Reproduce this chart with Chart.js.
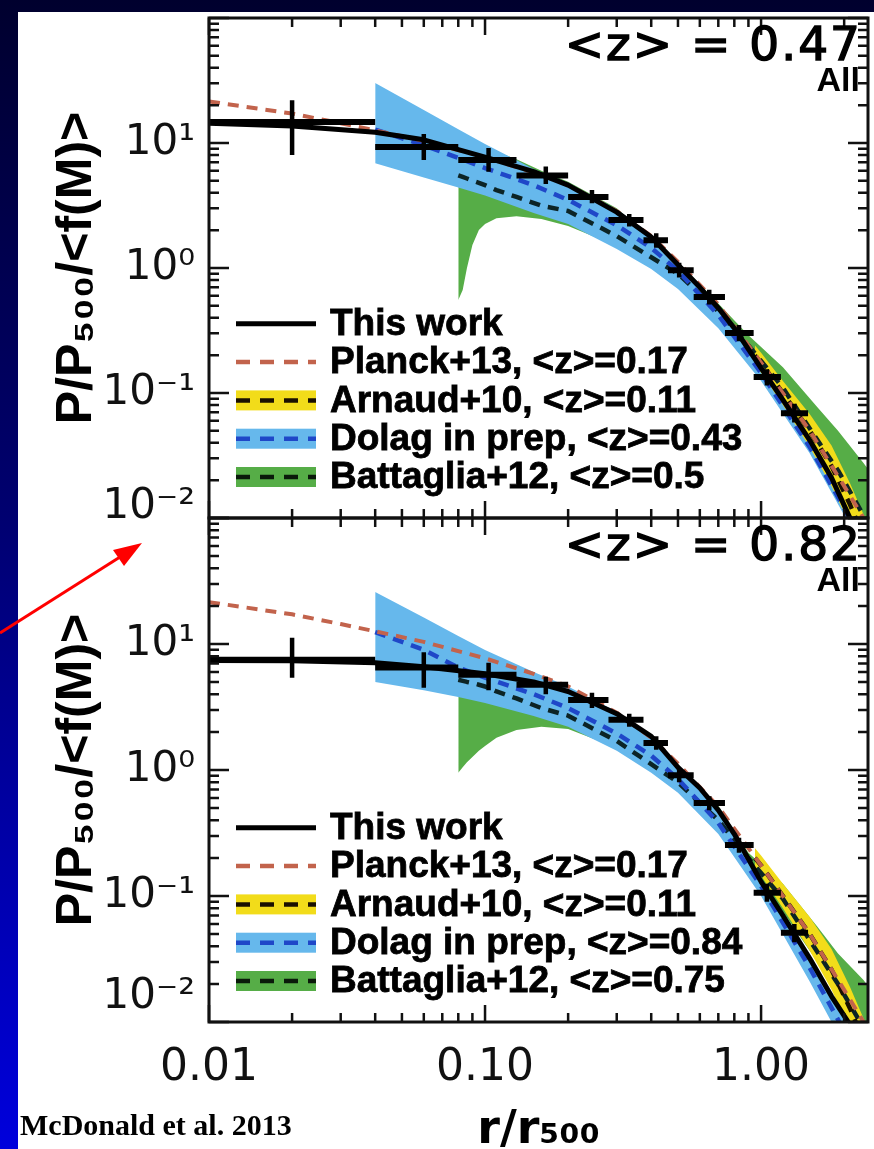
<!DOCTYPE html>
<html>
<head>
<meta charset="utf-8">
<script src="https://cdn.jsdelivr.net/npm/chart.js@4.4.1/dist/chart.umd.min.js"></script>
<style>
  html, body { margin:0; padding:0; }
  body { width:874px; height:1149px; overflow:hidden; position:relative;
         background: linear-gradient(to bottom, #00002e 0%, #000070 45%, #0000dc 100%); }
  #paper { position:absolute; left:18px; top:12px; width:856px; height:1137px; background:#fff; }
  canvas { position:absolute; left:0; top:0; }
  #credit { position:absolute; left:20px; top:1108px; font: bold 30px 'Liberation Serif', serif; color:#000; white-space:nowrap; }
  #arrow { position:absolute; left:0; top:0; pointer-events:none; }
</style>
</head>
<body>
<div id="paper"></div>
<canvas id="topPanel" width="874" height="1149"></canvas>
<canvas id="botPanel" width="874" height="1149"></canvas>
<div id="credit">McDonald et al. 2013</div>
<svg id="arrow" width="874" height="1149">
  <line x1="0" y1="633" x2="120" y2="557" stroke="#ff0000" stroke-width="3"/>
  <polygon points="142,543 113,550 124,566" fill="#ff0000"/>
</svg>
<script>
// ---------------- data ----------------
const xTickValues = [0.01, 0.1, 1];
const xTickLabels = ['0.01', '0.10', '1.00'];
const yTickValues = [0.01, 0.1, 1, 10, 100];
const yTickLabels = ['10⁻²', '10⁻¹', '10⁰', '10¹', ''];

const panelTitles = ['<z> = 0.47', '<z> = 0.82'];
const panelSubtitle = 'All';
const legendTop = ['This work', 'Planck+13, <z>=0.17', 'Arnaud+10, <z>=0.11', 'Dolag in prep, <z>=0.43', 'Battaglia+12, <z>=0.5'];
const legendBot = ['This work', 'Planck+13, <z>=0.17', 'Arnaud+10, <z>=0.11', 'Dolag in prep, <z>=0.84', 'Battaglia+12, <z>=0.75'];

// "This work" binned profile (bin edges, centres, values, errors)
const binLo = [0.01, 0.04, 0.08, 0.13, 0.20, 0.28, 0.375, 0.46, 0.57, 0.74, 0.94, 1.18];
const binHi = [0.04, 0.08, 0.13, 0.20, 0.28, 0.375, 0.46, 0.57, 0.74, 0.94, 1.18, 1.48];
const binX  = [0.020, 0.060, 0.103, 0.166, 0.244, 0.333, 0.417, 0.505, 0.649, 0.832, 1.05, 1.32];
const binYTop  = [14.7, 9.3, 7.3, 5.5, 3.7, 2.42, 1.67, 0.96, 0.586, 0.302, 0.134, 0.069];
const errLoTop = [8.0, 7.3, 5.9, 4.7, 3.3, 2.15, 1.45, 0.84, 0.51, 0.26, 0.115, 0.058];
const errHiTop = [22.0, 11.8, 9.1, 6.5, 4.2, 2.7, 1.9, 1.1, 0.67, 0.35, 0.155, 0.082];
const binYBot  = [7.5, 6.5, 5.7, 4.75, 3.6, 2.5, 1.64, 0.91, 0.547, 0.254, 0.106, 0.051];
const errLoBot = [5.4, 4.5, 4.3, 4.0, 3.1, 2.2, 1.45, 0.80, 0.48, 0.22, 0.09, 0.043];
const errHiBot = [11.2, 8.6, 7.1, 5.5, 4.1, 2.8, 1.85, 1.03, 0.62, 0.29, 0.125, 0.06];

// "This work" smooth model
const modelR   = [0.01, 0.02, 0.04, 0.06, 0.1, 0.15, 0.2, 0.3, 0.4, 0.5, 0.6, 0.7, 0.8, 1.0, 1.2, 1.5, 1.8, 2.1, 2.5];
const modelTop = [14.4, 13.7, 12.2, 10.6, 7.7, 5.9, 4.6, 2.8, 1.77, 1.06, 0.70, 0.48, 0.33, 0.158, 0.088, 0.042, 0.021, 0.010, 0.0046];
const modelBot = [7.4, 7.35, 7.1, 6.6, 5.8, 5.0, 4.2, 2.8, 1.85, 1.05, 0.72, 0.48, 0.31, 0.13, 0.07, 0.032, 0.016, 0.0095, 0.0052];

// Planck+13
const planckR = [0.01, 0.02, 0.03, 0.04, 0.06, 0.1, 0.15, 0.2, 0.3, 0.4, 0.5, 0.7, 1.0, 1.5, 2.0, 2.5];
const planckY = [21.5, 17.2, 14.4, 12.6, 10.4, 7.7, 5.8, 4.6, 2.85, 1.8, 1.12, 0.51, 0.175, 0.05, 0.018, 0.008];

// Arnaud+10 (mean and scatter)
const arnR  = [0.95, 1.0, 1.2, 1.5, 1.8, 2.1, 2.5];
const arnY  = [0.20, 0.175, 0.10, 0.05, 0.026, 0.0128, 0.0052];
const arnLo = [0.16, 0.145, 0.08, 0.037, 0.018, 0.0088, 0.0035];
const arnHi = [0.24, 0.21, 0.125, 0.068, 0.038, 0.019, 0.0078];

// Dolag in prep (band and mean)
const dolR       = [0.04, 0.06, 0.08, 0.1, 0.15, 0.2, 0.3, 0.4, 0.5, 0.7, 1.0, 1.5, 2.0, 2.5];
const dolHiTop   = [30.2, 18.4, 12.9, 9.8, 6.2, 4.8, 2.95, 1.85, 1.1, 0.5, 0.165, 0.044, 0.015, 0.0055];
const dolLoTop   = [6.9, 5.3, 4.4, 3.8, 2.75, 2.25, 1.42, 0.98, 0.68, 0.33, 0.125, 0.033, 0.0105, 0.0035];
const dolMeanTop = [12.8, 9.6, 7.6, 6.3, 4.6, 3.5, 2.2, 1.45, 0.95, 0.42, 0.145, 0.037, 0.012, 0.0045];
const dolHiBot   = [25.9, 16.2, 11.6, 8.96, 6.0, 4.6, 2.9, 1.85, 1.1, 0.48, 0.14, 0.034, 0.011, 0.004];
const dolLoBot   = [5.0, 4.3, 3.8, 3.4, 2.68, 2.2, 1.42, 0.95, 0.66, 0.31, 0.10, 0.021, 0.0065, 0.0025];
const dolMeanBot = [12.4, 9.0, 6.5, 5.4, 4.0, 3.1, 1.95, 1.3, 0.85, 0.38, 0.12, 0.027, 0.0085, 0.003];

// Battaglia+12 (band and mean)
const batR       = [0.08, 0.083, 0.086, 0.09, 0.095, 0.1, 0.11, 0.13, 0.16, 0.2, 0.3, 0.5, 0.7, 0.9, 1.2, 1.6, 1.9, 2.35, 2.5];
const batHiTop   = [9.6, 9.5, 9.4, 9.3, 9.1, 8.9, 8.5, 7.4, 6.0, 4.9, 3.0, 1.12, 0.52, 0.29, 0.161, 0.077, 0.05, 0.0275, 0.023];
const batLoTop   = [0.555, 0.667, 1.0, 1.53, 2.01, 2.25, 2.5, 2.6, 2.47, 2.17, 1.5, 0.75, 0.36, 0.2, 0.09, 0.038, 0.02, 0.009, 0.007];
const batMeanTop = [5.5, 5.35, 5.2, 5.0, 4.8, 4.6, 4.2, 3.7, 3.15, 2.86, 1.8, 0.9, 0.45, 0.24, 0.11, 0.042, 0.024, 0.0105, 0.0085];
const batHiBot   = [5.6, 5.6, 5.6, 5.5, 5.4, 5.3, 5.1, 4.7, 4.2, 3.9, 2.7, 1.1, 0.52, 0.22, 0.125, 0.057, 0.035, 0.0215, 0.018];
const batLoBot   = [0.95, 1.05, 1.15, 1.27, 1.42, 1.55, 1.8, 2.08, 2.2, 2.12, 1.5, 0.7, 0.33, 0.17, 0.075, 0.03, 0.016, 0.0075, 0.006];
const batMeanBot = [5.2, 5.1, 5.0, 4.9, 4.75, 4.6, 4.2, 3.7, 3.1, 2.7, 1.7, 0.8, 0.4, 0.2, 0.095, 0.036, 0.02, 0.009, 0.0072];

// ---------------- styling ----------------
const SANS = "'Liberation Sans', 'DejaVu Sans', Arial, sans-serif";
const WIDE = "'DejaVu Sans', 'Liberation Sans', Arial, sans-serif";
const GREEN = '#56ad47', BLUE = '#66b8ec', YELLOW = '#f2dc1a';
const C_PLANCK = '#c2634c', C_DOLAG = '#1f47c8', C_BAT = '#0c2426', C_ARN = '#1a1000';
const DASH = [11, 8];

function xy(xs, ys) { return xs.map((x, i) => ({ x: x, y: ys[i] })); }
function hbars(lo, hi, y) {
  const o = [];
  for (let i = 0; i < y.length; i++) o.push({ x: lo[i], y: y[i] }, { x: hi[i], y: y[i] }, { x: hi[i], y: null });
  return o;
}
function vbars(x, lo, hi) {
  const o = [];
  for (let i = 0; i < x.length; i++) o.push({ x: x[i], y: lo[i] }, { x: x[i], y: hi[i] }, { x: x[i], y: null });
  return o;
}

function makeDatasets(p) {
  const base = { pointRadius: 0, pointHoverRadius: 0, tension: 0, fill: false, spanGaps: false,
                 borderCapStyle: 'butt', borderJoinStyle: 'round' };
  const none = 'rgba(0,0,0,0)';
  return [
    { ...base, label: 'bat-lo', data: xy(batR, p.batLo), borderWidth: 0, borderColor: none, backgroundColor: none, order: 20 },
    { ...base, label: 'Battaglia band', data: xy(batR, p.batHi), borderWidth: 0, borderColor: none, backgroundColor: GREEN, fill: '-1', order: 12 },
    { ...base, label: 'dol-lo', data: xy(dolR, p.dolLo), borderWidth: 0, borderColor: none, backgroundColor: none, order: 21 },
    { ...base, label: 'Dolag band', data: xy(dolR, p.dolHi), borderWidth: 0, borderColor: none, backgroundColor: BLUE, fill: '-1', order: 11 },
    { ...base, label: 'arn-lo', data: xy(arnR, arnLo), borderWidth: 0, borderColor: none, backgroundColor: none, order: 22 },
    { ...base, label: 'Arnaud band', data: xy(arnR, arnHi), borderWidth: 0, borderColor: none, backgroundColor: YELLOW, fill: '-1', order: 10 },
    { ...base, label: 'Battaglia+12', data: xy(batR, p.batMean), borderColor: C_BAT, backgroundColor: none, borderWidth: 4.5, borderDash: DASH, order: 6 },
    { ...base, label: 'Dolag in prep', data: xy(dolR, p.dolMean), borderColor: C_DOLAG, backgroundColor: none, borderWidth: 4.5, borderDash: DASH, order: 5 },
    { ...base, label: 'Arnaud+10', data: xy(arnR, arnY), borderColor: C_ARN, backgroundColor: none, borderWidth: 4.5, borderDash: DASH, order: 4 },
    { ...base, label: 'Planck+13', data: xy(planckR, planckY), borderColor: C_PLANCK, backgroundColor: none, borderWidth: 4, borderDash: DASH, order: 3 },
    { ...base, label: 'This work', data: xy(modelR, p.model), borderColor: '#000', backgroundColor: none, borderWidth: 5, order: 2 },
    { ...base, label: 'bins', data: hbars(binLo, binHi, p.binY), borderColor: '#000', backgroundColor: none, borderWidth: 6, order: 1 },
    { ...base, label: 'errors', data: vbars(binX, p.errLo, p.errHi), borderColor: '#000', backgroundColor: none, borderWidth: 4.5, order: 0 }
  ];
}

// frame, inward ticks, legend and panel labels
const panelDecor = {
  id: 'panelDecor',
  afterDatasetsDraw(chart, args, o) {
    const { ctx, chartArea: a } = chart;
    const xs = chart.scales.x, ys = chart.scales.y;
    ctx.save();
    ctx.strokeStyle = '#111';
    ctx.lineWidth = 2.5;
    ctx.beginPath();
    for (const d of [0.01, 0.1, 1]) {
      for (let m = 1; m <= 9; m++) {
        const v = m * d;
        if (v > xs.max * 1.0001) continue;
        const px = xs.getPixelForValue(v);
        const L = m === 1 ? 17 : 9;
        ctx.moveTo(px, a.bottom); ctx.lineTo(px, a.bottom - L);
        ctx.moveTo(px, a.top); ctx.lineTo(px, a.top + L);
      }
    }
    for (const d of [0.01, 0.1, 1, 10, 100]) {
      for (let m = 1; m <= 9; m++) {
        const v = m * d;
        if (v > ys.max * 1.0001) continue;
        const py = ys.getPixelForValue(v);
        const L = m === 1 ? 20 : 10;
        ctx.moveTo(a.left, py); ctx.lineTo(a.left + L, py);
        ctx.moveTo(a.right, py); ctx.lineTo(a.right - L, py);
      }
    }
    ctx.stroke();
    ctx.lineWidth = 3;
    ctx.strokeRect(a.left, a.top, a.right - a.left, a.bottom - a.top);

    // panel label
    ctx.fillStyle = '#000';
    ctx.strokeStyle = '#000';
    ctx.textAlign = 'right';
    ctx.textBaseline = 'alphabetic';
    ctx.font = '47px ' + WIDE;
    try { ctx.letterSpacing = '2px'; } catch (e) {}
    ctx.lineWidth = 1.4;
    ctx.fillText(o.title, a.right - 6, a.top + 42);
    ctx.strokeText(o.title, a.right - 6, a.top + 42);
    try { ctx.letterSpacing = '0px'; } catch (e) {}
    ctx.font = 'bold 34px ' + SANS;
    ctx.fillText(panelSubtitle, a.right - 8, a.top + 73);

    // legend
    const n = o.legend.length;
    const sx0 = 236, sx1 = 316, tx = 330;
    for (let k = 0; k < n; k++) {
      const yc = a.bottom - 41 - (n - 1 - k) * 38.3;
      if (k >= 2) {
        ctx.fillStyle = k === 2 ? YELLOW : (k === 3 ? BLUE : GREEN);
        ctx.fillRect(sx0, yc - 10, sx1 - sx0, 20);
      }
      ctx.beginPath();
      ctx.lineWidth = k === 0 ? 5 : 4.5;
      ctx.strokeStyle = ['#000', C_PLANCK, C_ARN, C_DOLAG, '#0a1a0a'][k];
      ctx.setLineDash(k === 0 ? [] : [14, 10]);
      ctx.moveTo(sx0, yc); ctx.lineTo(sx1, yc);
      ctx.stroke();
      ctx.setLineDash([]);
      ctx.fillStyle = '#000';
      ctx.strokeStyle = '#000';
      ctx.lineWidth = 0.8;
      ctx.textAlign = 'left';
      ctx.textBaseline = 'middle';
      ctx.font = 'bold 37px ' + SANS;
      ctx.fillText(o.legend[k], tx, yc + 1);
      ctx.strokeText(o.legend[k], tx, yc + 1);
    }
    ctx.restore();
  }
};

function buildChart(id, p) {
  const isBottom = p.bottom;
  return new Chart(document.getElementById(id), {
    type: 'line',
    data: { datasets: makeDatasets(p) },
    options: {
      responsive: false, animation: false, devicePixelRatio: 1,
      events: [],
      layout: { padding: { left: 0, right: 6, top: isBottom ? 518 : 18, bottom: isBottom ? 0 : 631 } },
      plugins: {
        legend: { display: false }, tooltip: { enabled: false },
        panelDecor: { title: p.title, legend: p.legend }
      },
      scales: {
        x: {
          type: 'logarithmic', min: 0.01, max: 2.44, position: 'bottom',
          grid: { display: false, drawTicks: false }, border: { display: false },
          afterBuildTicks: (s) => { s.ticks = xTickValues.map(v => ({ value: v })); },
          ticks: {
            display: isBottom, autoSkip: false, maxRotation: 0, padding: 20, color: '#111',
            font: { family: WIDE, size: 44 },
            callback: (v) => { const i = xTickValues.indexOf(v); return i >= 0 ? xTickLabels[i] : ''; }
          },
          title: { display: isBottom, text: 'r/r₅₀₀', color: '#000', padding: { top: 0, bottom: 0 },
                   font: { family: WIDE, size: 46, weight: 'bold', lineHeight: 0.8 } },
          afterFit: (s) => { s.height = isBottom ? 127 : 0; s.paddingLeft = 0; s.paddingRight = 0; }
        },
        y: {
          type: 'logarithmic', min: 0.01, max: 100, position: 'left',
          grid: { display: false, drawTicks: false }, border: { display: false },
          afterBuildTicks: (s) => { s.ticks = yTickValues.map(v => ({ value: v })); },
          ticks: {
            autoSkip: false, padding: 14, color: '#111',
            font: (c) => ({ family: WIDE, size: 42,
              lineHeight: (c.tick && c.tick.value === 0.01) ? p.lowShift : 1.2 }),
            callback: (v) => {
              const i = yTickValues.indexOf(v);
              const s = i >= 0 ? yTickLabels[i] : '';
              return v === 0.01 ? [s, ''] : s;
            }
          },
          title: { display: true, text: 'P/P₅₀₀/<f(M)>', color: '#000', padding: { top: 52, bottom: 0 },
                   font: { family: SANS, size: 50, weight: 'bold', lineHeight: 1.0 } },
          afterFit: (s) => { s.width = 209; s.paddingTop = 0; s.paddingBottom = 0; }
        }
      }
    },
    plugins: [panelDecor]
  });
}

buildChart('topPanel', {
  bottom: false, title: panelTitles[0], legend: legendTop, lowShift: '22px',
  binY: binYTop, errLo: errLoTop, errHi: errHiTop, model: modelTop,
  dolHi: dolHiTop, dolLo: dolLoTop, dolMean: dolMeanTop,
  batHi: batHiTop, batLo: batLoTop, batMean: batMeanTop
});
buildChart('botPanel', {
  bottom: true, title: panelTitles[1], legend: legendBot, lowShift: '50px',
  binY: binYBot, errLo: errLoBot, errHi: errHiBot, model: modelBot,
  dolHi: dolHiBot, dolLo: dolLoBot, dolMean: dolMeanBot,
  batHi: batHiBot, batLo: batLoBot, batMean: batMeanBot
});
</script>
</body>
</html>
